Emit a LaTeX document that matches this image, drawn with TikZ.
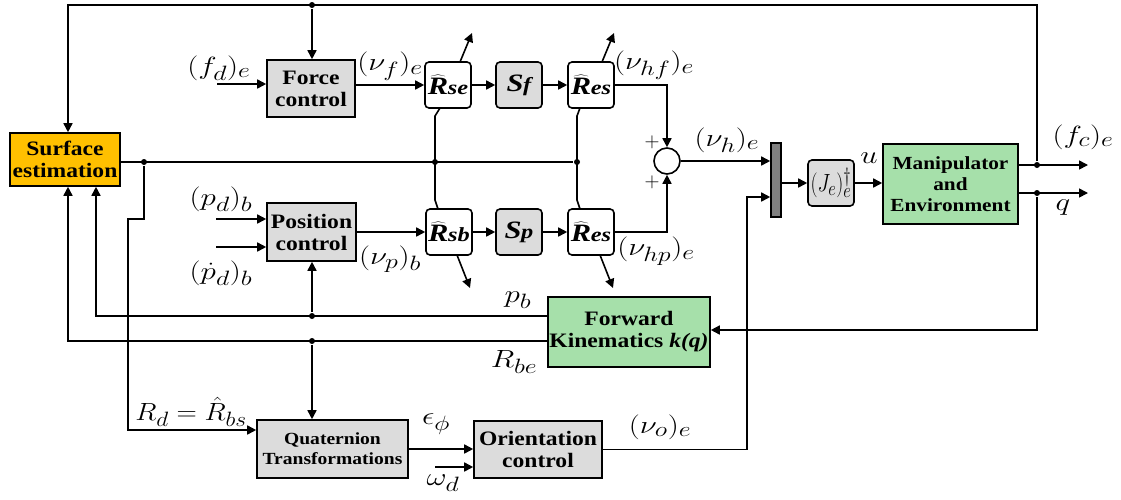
\documentclass[tikz,border=0pt]{standalone}
\usepackage[no-math]{fontspec}
\setmainfont{Liberation Serif}
\newfontfamily\boxfont{Liberation Serif}[FakeStretch=1.15]
\newfontfamily\rfont{Liberation Serif}[FakeStretch=1.22]
\usetikzlibrary{arrows.meta,calc}
\definecolor{surfc}{RGB}{255,192,0}
\definecolor{grn}{RGB}{166,224,170}
\definecolor{lgray}{RGB}{220,220,220}
\definecolor{dgray}{RGB}{128,128,128}
\newcommand\mlab[1]{\scalebox{1.25}[1]{$#1$}}
\newcommand\Rhat[1]{$\widehat{\hbox{\rfont\bfseries\itshape R}}$\kern-0.5pt{\rfont\fontsize{20}{20}\selectfont\bfseries\itshape #1}}
\newcommand\Sblk[1]{{\rfont\bfseries\itshape S}\kern-0.5pt{\rfont\fontsize{20}{20}\selectfont\bfseries\itshape #1}}
\begin{document}
\begin{tikzpicture}[x=1pt,y=-1pt,line width=1.6pt,
  >={Triangle[length=9pt,width=9pt]},
  box/.style={draw,fill=lgray,inner sep=0pt,align=center,font=\boxfont\fontsize{20.5}{22}\selectfont\bfseries},
  rbox/.style={draw,fill=white,rounded corners=4pt,inner sep=0pt,minimum width=46pt,minimum height=46pt,font=\fontsize{25}{28}\selectfont},
  sbox/.style={rbox,fill=lgray},
  lab/.style={inner sep=0pt,font=\fontsize{24.88}{28}\selectfont},
  dot/.style={circle,fill=black,inner sep=0pt,minimum size=6pt}]
\useasboundingbox (0,0) rectangle (1121,499);

% blocks
\node[box,fill=surfc,minimum width=110pt,minimum height=53pt] (surf) at (65,159.5) {Surface\\estimation};
\node[box,minimum width=88pt,minimum height=57pt] (force) at (311,88.5) {Force\\control};
\node[box,minimum width=89pt,minimum height=58pt] (pos) at (311.5,232) {Position\\control};
\node[rbox] (rse) at (448,85) {\Rhat{se}};
\node[sbox] (sf) at (519,85) {\Sblk{f}};
\node[rbox] (res1) at (591,85) {\Rhat{es}};
\node[rbox] (rsb) at (449,232) {\Rhat{sb}};
\node[sbox] (sp) at (519,232) {\Sblk{p}};
\node[rbox] (res2) at (591,232) {\Rhat{es}};
\node[draw,circle,fill=white,minimum size=26pt,inner sep=0pt] (sum) at (667,161) {};
\node[draw,fill=dgray,minimum width=10pt,minimum height=74pt,inner sep=0pt] (mux) at (776,180) {};
\node[draw,fill=lgray,rounded corners=4pt,minimum width=46pt,minimum height=46pt,inner sep=0pt,font=\fontsize{24.88}{26}\selectfont] (jac) at (831,183) {\scalebox{0.8}[1]{$(J_e)_e^{\dagger}$}};
\node[box,fill=grn,minimum width=135pt,minimum height=80pt,font=\boxfont\fontsize{18.5}{21}\selectfont\bfseries] (manip) at (950.5,184) {Manipulator\\and\\Environment};
\node[box,fill=grn,minimum width=162pt,minimum height=70pt] (fk) at (629,332) {Forward\\Kinematics \textit{k(q)}};
\node[box,minimum width=151pt,minimum height=58pt,font=\boxfont\fontsize{17}{20}\selectfont\bfseries] (quat) at (332.5,449) {Quaternion\\Transformations};
\node[box,minimum width=128pt,minimum height=57pt] (orient) at (538,449.5) {Orientation\\control};

% junctions
\node[dot] (dtop) at (312,5) {};
\node[dot] (dsurf) at (144,162) {};
\node[dot] (d1) at (435,162) {};
\node[dot] (d2) at (577,162) {};
\node[dot] (dfc) at (1037,165) {};
\node[dot] (dq) at (1037,193) {};
\node[dot] (dpb) at (312,316) {};
\node[dot] (drbe) at (312,341) {};
\coordinate (fdin) at (217,84);
\coordinate (pdin) at (216,219);
\coordinate (pddin) at (216,247);
\coordinate (wdin) at (435,467);
\coordinate (fcout) at (1088,165);
\coordinate (qout) at (1088,193);

% top feedback
\draw[->] (dfc) -- (dfc |- dtop) -- (68,5) -- (surf.north -| 68,0);
\draw[->] (dtop) -- (force.north -| dtop);
% inputs
\draw[->] (fdin) -- (force.west |- fdin);
\draw[->] (pdin) -- (pos.west |- pdin);
\draw[->] (pddin) -- (pos.west |- pddin);
% force row
\draw[->] (force.east |- rse) -- (rse.west);
\draw[->] (rse) -- (sf);
\draw[->] (sf) -- (res1);
\draw[->] (res1.east) -- (sum.north |- res1) -- (sum.north);
% position row
\draw[->] (pos.east |- rsb) -- (rsb.west);
\draw[->] (rsb) -- (sp);
\draw[->] (sp) -- (res2);
\draw[->] (res2.east) -- (sum.south |- res2) -- (sum.south);
% diagonal arrows
\draw[->] (460,62) -- (472,33);
\draw[->] (602,62) -- (614,33);
\draw[->] (457,255) -- (470,288);
\draw[->] (600,255) -- (613,288);
% surface estimate line
\draw (surf.east |- dsurf) -- (d2);
\draw (440,108) -- (435,116) -- (435,200) -- (438,209);
\draw (580,108) -- (577,116) -- (577,200) -- (580,209);
% sum to mux
\draw[->] (sum.east) -- (mux.west |- sum);
\draw[->] (orient.east) -- (747,449.5) -- (747,197) -- (mux.west |- 0,197);
\draw[->] (mux.east |- jac) -- (jac.west);
\draw[->] (jac.east) -- (manip.west |- jac);
% outputs
\draw[->] (manip.east |- dfc) -- (fcout);
\draw[->] (manip.east |- dq) -- (qout);
\draw[->] (dq) -- (1037,330) -- (fk.east |- 0,330);
% FK feedback
\draw[->] (fk.west |- dpb) -- (96,316) -- (surf.south -| 96,0);
\draw[->] (fk.west |- drbe) -- (68,341) -- (surf.south -| 68,0);
\draw[->] (dpb) -- (pos.south -| dpb);
\draw[->] (drbe) -- (quat.north -| drbe);
% Rd line
\draw[->] (dsurf) -- (144,219) -- (128,219) -- (128,430) -- (quat.west |- 0,430);
% quaternion to orientation
\draw[->] (quat.east |- 0,449) -- (orient.west |- 0,449);
\draw[->] (wdin) -- (orient.west |- wdin);

% labels
\node[lab] (lfd) at (219,68) {\mlab{(f_d)_e}};
\node[lab] (lnf) at (390,66) {\mlab{(\nu_f)_e}};
\node[lab] (lpd) at (221,199) {\mlab{(p_d)_b}};
\node[lab] (lpdd) at (221,273) {\mlab{(\dot p_d)_b}};
\node[lab] (lnp) at (390,259) {\mlab{(\nu_p)_b}};
\node[lab] (lnhf) at (654,65) {\mlab{(\nu_{hf})_e}};
\node[lab] (lnhp) at (656,251) {\mlab{(\nu_{hp})_e}};
\node[inner sep=0pt,font=\fontsize{20.74}{22}\selectfont] (p1) at (652,142) {$+$};
\node[inner sep=0pt,font=\fontsize{20.74}{22}\selectfont] (p2) at (652,182) {$+$};
\node[lab] (lnh) at (727,140) {\mlab{(\nu_h)_e}};
\node[lab] (lu) at (869,158) {\mlab{u}};
\node[lab] (lfc) at (1083,137) {\mlab{(f_c)_e}};
\node[lab] (lq) at (1063,208) {\mlab{q}};
\node[lab] (lpb) at (518,300) {\mlab{p_b}};
\node[lab] (lrbe) at (514,362) {\mlab{R_{be}}};
\node[lab] (lrd) at (191,412) {\scalebox{1.13}[1]{$R_d=\hat{R}_{bs}$}};
\node[lab] (leps) at (436,424) {\mlab{\epsilon_\phi}};
\node[lab] (lwd) at (443,483) {\mlab{\omega_d}};
\node[lab] (lno) at (660,427) {\mlab{(\nu_o)_e}};
\end{tikzpicture}
\end{document}
